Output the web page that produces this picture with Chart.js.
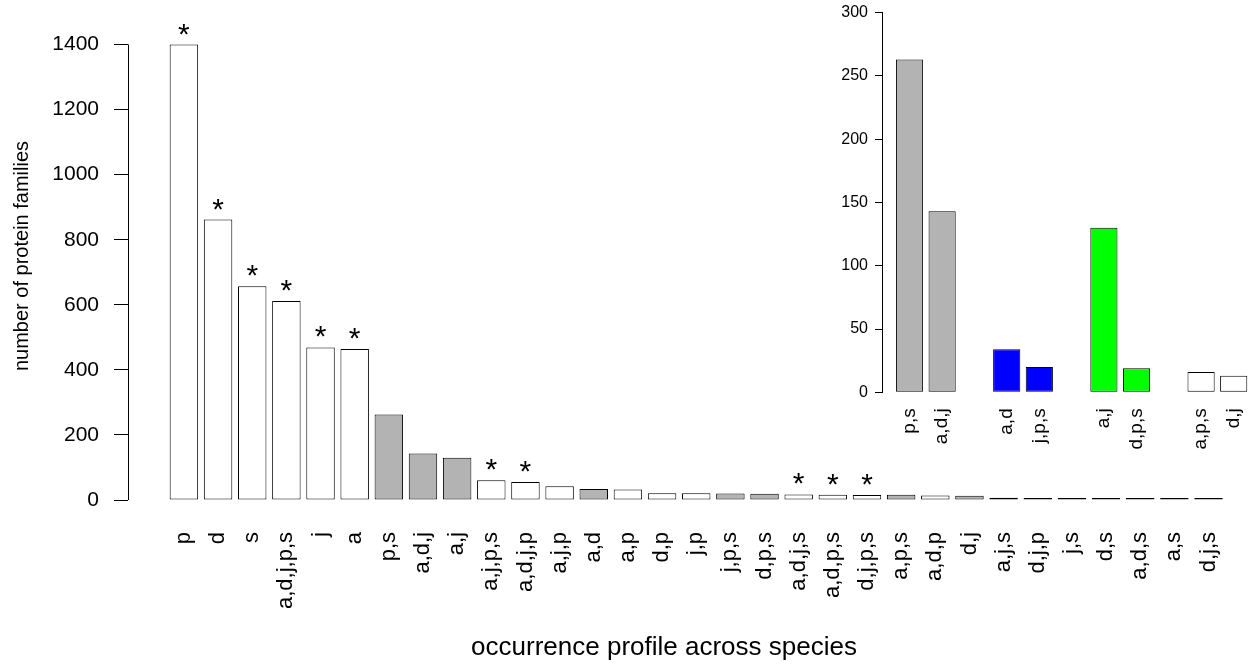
<!DOCTYPE html>
<html lang="en">
<head>
  <meta charset="UTF-8" />
  <title>Protein family occurrence profiles</title>
  <script src="https://cdn.jsdelivr.net/npm/chart.js"></script>
  <style>
    body {
      margin: 0;
      padding: 0;
      background: #ffffff;
      overflow: hidden;
    }
    #wrap {
      position: relative;
      width: 1250px;
      height: 665px;
    }
    #mainChart {
      position: absolute;
      left: 0;
      top: 0;
    }
    #insetChart {
      position: absolute;
      left: 820px;
      top: 0;
    }
  </style>
</head>
<body>
  <div id="wrap">
    <canvas id="mainChart" width="1250" height="665"></canvas>
    <canvas id="insetChart" width="430" height="470"></canvas>
  </div>

  <script>
    // main barplot
    const profiles = ['p', 'd', 's', 'a,d,j,p,s', 'j', 'a', 'p,s', 'a,d,j', 'a,j', 'a,j,p,s',
      'a,d,j,p', 'a,j,p', 'a,d', 'a,p', 'd,p', 'j,p', 'j,p,s', 'd,p,s', 'a,d,j,s', 'a,d,p,s',
      'd,j,p,s', 'a,p,s', 'a,d,p', 'd,j', 'a,j,s', 'd,j,p', 'j,s', 'd,s', 'a,d,s', 'a,s', 'd,j,s'];
    const familyCounts = [1400, 862, 657, 612, 469, 464, 263, 143, 130, 61,
      55, 42, 34, 32, 21, 21, 20, 19, 17, 16,
      15, 16, 14, 13, 7, 6, 6, 4, 2, 2, 2];
    const profileShade = ['white', 'white', 'white', 'white', 'white', 'white', 'grey', 'grey', 'grey', 'white',
      'white', 'white', 'grey', 'white', 'white', 'white', 'grey', 'grey', 'white', 'white',
      'white', 'grey', 'white', 'grey', 'white', 'white', 'white', 'grey', 'white', 'white', 'white'];
    const starred = ['p', 'd', 's', 'a,d,j,p,s', 'j', 'a', 'a,j,p,s', 'a,d,j,p', 'a,d,j,s', 'a,d,p,s', 'd,j,p,s'];
    const mainTicks = [0, 200, 400, 600, 800, 1000, 1200, 1400];

    // inset barplot, pairs of profiles
    const insetGroups = [['p,s', 'a,d,j'], ['a,d', 'j,p,s'], ['a,j', 'd,p,s'], ['a,p,s', 'd,j']];
    const insetCounts = [[263, 143], [34, 20], [130, 19], [16, 13]];
    const insetShade = ['grey', 'blue', 'green', 'white'];
    const insetTicks = [0, 50, 100, 150, 200, 250, 300];

    const fills = { white: '#ffffff', grey: '#b3b3b3', blue: '#0000ff', green: '#00ff00' };
    const FONT = 'Liberation Sans, Arial, sans-serif';

    Chart.defaults.font.family = FONT;
    Chart.defaults.color = '#000000';

    // no automatic label padding, the plot box is placed by hand
    function noPad(s) {
      s.paddingTop = 0;
      s.paddingBottom = 0;
      s.paddingLeft = 0;
      s.paddingRight = 0;
    }

    // R-style y axis line that only runs between first and last tick
    const axisLine = {
      id: 'axisLine',
      afterDraw(chart) {
        const y = chart.scales.y;
        const ctx = chart.ctx;
        const x = Math.round(chart.chartArea.left) + 0.5;
        ctx.save();
        ctx.strokeStyle = '#000';
        ctx.lineWidth = 1;
        ctx.beginPath();
        ctx.moveTo(x, y.getPixelForValue(mainTicks[0]));
        ctx.lineTo(x, y.getPixelForValue(mainTicks[mainTicks.length - 1]));
        ctx.stroke();
        ctx.restore();
      }
    };

    const stars = {
      id: 'stars',
      afterDatasetsDraw(chart) {
        const ctx = chart.ctx;
        const bars = chart.getDatasetMeta(0).data;
        ctx.save();
        ctx.font = '30px ' + FONT;
        ctx.fillStyle = '#000';
        ctx.textAlign = 'center';
        ctx.textBaseline = 'alphabetic';
        profiles.forEach((p, i) => {
          if (starred.includes(p)) ctx.fillText('*', bars[i].x, bars[i].y - 1);
        });
        ctx.restore();
      }
    };

    new Chart(document.getElementById('mainChart'), {
      type: 'bar',
      data: {
        datasets: [{
          data: familyCounts.map((v, i) => ({ x: i, y: v })),
          backgroundColor: profileShade.map(s => fills[s]),
          borderColor: '#000',
          borderWidth: 1,
          borderSkipped: false,
          minBarLength: 2,
          clip: false,
          barPercentage: 1 / 1.2,
          categoryPercentage: 1
        }]
      },
      options: {
        responsive: false,
        animation: false,
        layout: { padding: { top: 12, left: 0, right: 50, bottom: 0 } },
        plugins: { legend: { display: false }, tooltip: { enabled: false } },
        scales: {
          x: {
            type: 'linear',
            offset: false,
            min: -1.637,
            max: 29.75,
            grid: { display: false, drawTicks: false },
            border: { display: false },
            afterBuildTicks: s => { s.ticks = profiles.map((p, i) => ({ value: i })); },
            afterFit: s => { s.height = 165; noPad(s); },
            ticks: {
              autoSkip: false,
              minRotation: 90,
              maxRotation: 90,
              padding: 32,
              font: { size: 22 },
              callback: (v, i) => profiles[i]
            },
            title: {
              display: true,
              text: 'occurrence profile across species',
              font: { size: 26 },
              padding: { top: 0, bottom: 2 }
            }
          },
          y: {
            min: 0,
            max: 1500,
            afterBuildTicks: s => { s.ticks = mainTicks.map(v => ({ value: v })); },
            afterFit: s => { s.width = 128; noPad(s); },
            border: { display: false },
            grid: { drawOnChartArea: false, drawTicks: true, tickLength: 14, color: '#000' },
            ticks: { padding: 15, font: { size: 21 }, callback: v => String(v) },
            title: {
              display: true,
              text: 'number of protein families',
              font: { size: 20 },
              padding: { top: 10, bottom: 0 }
            }
          }
        }
      },
      plugins: [axisLine, stars]
    });

    // inset: bar b of group g sits at g * groupPitch + b
    const groupPitch = 2.98;
    const insetLabels = insetGroups.flat();
    const insetPos = insetGroups.flatMap((grp, g) => grp.map((_, b) => g * groupPitch + b));

    new Chart(document.getElementById('insetChart'), {
      type: 'bar',
      data: {
        datasets: [{
          data: insetCounts.flat().map((v, i) => ({ x: insetPos[i], y: v })),
          backgroundColor: insetGroups.flatMap((grp, g) => grp.map(() => fills[insetShade[g]])),
          borderColor: '#000',
          borderWidth: 1,
          borderSkipped: false,
          barPercentage: 1 / 1.2,
          categoryPercentage: 1
        }]
      },
      options: {
        responsive: false,
        animation: false,
        layout: { padding: { top: 12.7, left: 0, right: 0, bottom: 0 } },
        plugins: { legend: { display: false }, tooltip: { enabled: false } },
        scales: {
          x: {
            type: 'linear',
            offset: false,
            min: -0.844,
            max: 10.44,
            grid: { display: false, drawTicks: false },
            border: { display: false },
            afterBuildTicks: s => { s.ticks = insetPos.map(v => ({ value: v })); },
            afterFit: s => { s.height = 77.7; noPad(s); },
            ticks: {
              autoSkip: false,
              minRotation: 90,
              maxRotation: 90,
              padding: 16,
              font: { size: 19 },
              callback: (v, i) => insetLabels[i]
            }
          },
          y: {
            min: 0,
            max: 300,
            afterBuildTicks: s => { s.ticks = insetTicks.map(v => ({ value: v })); },
            afterFit: s => { s.width = 62; noPad(s); },
            border: { display: true, color: '#000' },
            grid: { drawOnChartArea: false, drawTicks: true, tickLength: 7, color: '#000' },
            ticks: { padding: 7, font: { size: 16 } }
          }
        }
      }
    });
  </script>
</body>
</html>
